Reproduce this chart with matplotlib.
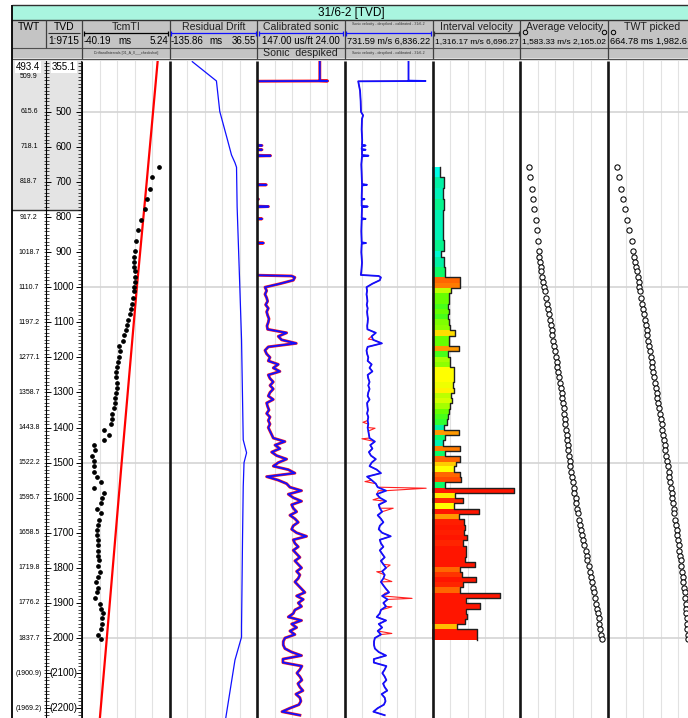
import matplotlib
matplotlib.use("Agg")
import matplotlib.pyplot as plt
import numpy as np
from matplotlib.patches import Rectangle
from matplotlib.colors import LinearSegmentedColormap, Normalize

plt.rcParams['font.family'] = ['Liberation Sans', 'DejaVu Sans']

# ---------------- data ----------------
# checkshot depths (m TVD) and picked values
shot_depth = [656, 687, 719, 748, 778, 808, 837, 867, 897, 913, 927, 941, 955, 970, 984, 998, 1012,
              1031, 1048, 1063, 1077, 1093, 1107, 1122, 1136, 1152, 1167, 1183, 1198, 1212, 1226,
              1241, 1257, 1272, 1288, 1302, 1317, 1331, 1345, 1361, 1376, 1390, 1407, 1422, 1435,
              1450, 1464, 1480, 1494, 1510, 1526, 1540, 1556, 1571, 1586, 1602, 1616, 1631, 1645,
              1663, 1678, 1692, 1706, 1720, 1735, 1751, 1766, 1779, 1796, 1811, 1826, 1841, 1856,
              1870, 1885, 1903, 1916, 1930, 1944, 1959, 1974, 1991, 2004]
tcmti_ms = [-0.4, -3.7, -4.7, -6.5, -7.5, -9.4, -11.1, -12.0, -12.6, -13.0, -13.2, -13.0, -12.6,
            -12.6, -12.8, -13.0, -13.2, -13.7, -14.2, -14.7, -15.2, -16.3, -16.8, -17.1, -18.3,
            -19.0, -21.2, -20.7, -20.9, -21.4, -22.1, -22.3, -22.3, -21.9, -21.9, -22.3, -23.1,
            -23.3, -23.8, -24.5, -24.8, -25.2, -28.6, -26.4, -28.8, -33.8, -33.5, -35.2, -33.8,
            -33.8, -33.8, -32.3, -30.5, -34.0, -28.8, -30.0, -30.4, -32.4, -30.2, -31.6, -31.7,
            -32.3, -32.4, -31.7, -31.7, -31.7, -31.7, -31.6, -31.7, -30.9, -31.9, -32.9, -31.7,
            -32.5, -33.6, -30.9, -30.2, -29.5, -30.0, -30.0, -30.2, -31.7, -30.5]
avg_vel = [1638, 1645, 1658, 1667, 1676, 1685, 1691, 1698, 1707, 1709, 1711, 1718, 1722, 1729,
           1733, 1740, 1746, 1755, 1762, 1768, 1773, 1779, 1786, 1790, 1795, 1801, 1806, 1812,
           1817, 1823, 1828, 1834, 1841, 1848, 1852, 1857, 1861, 1865, 1870, 1874, 1879, 1881,
           1883, 1890, 1894, 1896, 1901, 1905, 1909, 1914, 1920, 1925, 1929, 1936, 1942, 1949,
           1953, 1960, 1967, 1975, 1980, 1986, 1993, 2000, 2006, 2015, 2022, 2028, 2037, 2044,
           2053, 2059, 2064, 2070, 2077, 2086, 2092, 2097, 2101, 2105, 2112, 2119, 2125]
twt_picked = [794, 824, 859, 894, 919, 954, 984, 1019, 1044, 1059, 1069, 1084, 1099, 1109, 1124,
              1134, 1149, 1164, 1179, 1189, 1204, 1219, 1229, 1244, 1254, 1269, 1279, 1294, 1304,
              1318, 1328, 1343, 1353, 1368, 1378, 1393, 1403, 1418, 1428, 1443, 1453, 1468, 1478,
              1493, 1503, 1513, 1523, 1538, 1548, 1558, 1573, 1583, 1593, 1608, 1618, 1628, 1638,
              1648, 1658, 1673, 1683, 1693, 1703, 1713, 1723, 1733, 1743, 1753, 1763, 1773, 1783,
              1793, 1803, 1813, 1818, 1828, 1833, 1838, 1843, 1848, 1853, 1858, 1862]

# TcmTI trend line
tcm_line_depth = [355, 700, 1000, 1500, 2000, 2228]
tcm_line_ms = [-0.9, -6.6, -11.7, -19.6, -27.3, -30.9]

# residual drift
drift_depth = [357, 412, 499, 580, 623, 645, 658, 771, 1000, 1150, 1435, 1472, 1500, 1569,
               1720, 1968, 1997, 2063, 2228]
drift_ms = [-90.9, -43.4, -36.8, -21.6, -13.7, -6.9, -3.8, -2.6, 2.7, 6.1, 9.4, 16.0, 11.0, 9.4,
            8.0, 6.1, 6.1, -6.9, -25.0]

# sonic (us/ft): shallow part at irregular depths, then every 10 m from 980 m
sonic_top_depth = [355, 411, 412, 413, 440, 470, 500, 510, 520, 550, 580, 594, 596, 598, 606, 608,
                   610, 623, 625, 627, 650, 680, 706, 708, 710, 747, 749, 751, 768, 770, 772, 803,
                   805, 807, 840, 872, 874, 876, 900, 930, 955, 965, 968, 972]
sonic_top = [59, 59, 48, 183, 170, 166, 164, 152, 158, 160, 157, 158, 140, 158, 160, 140, 158, 158,
             128, 158, 162, 160, 158, 134, 158, 160, 145, 160, 160, 131, 158, 160, 140, 160, 162,
             160, 138, 160, 162, 158, 162, 165, 98.5, 94]
sonic_main = [96.2, 114.9, 135.8, 133.5, 135.8, 133.5, 132.1, 134.9, 131.2, 133.5,
              132.1, 130.2, 131.2, 133.0, 132.1, 105.5, 117.2, 112.5, 92.0, 131.2,
              135.8, 133.5, 128.8, 131.2, 117.2, 124.2, 114.9, 131.2, 128.8, 124.2,
              128.8, 124.2, 128.8, 131.2, 124.2, 133.5, 132.1, 130.2, 133.5, 128.8,
              131.2, 128.8, 131.2, 128.8, 126.5, 124.2, 107.9, 121.8, 114.9, 126.5,
              119.5, 105.5, 117.2, 124.2, 103.2, 93.9, 133.5, 117.2, 105.5, 100.9,
              84.6, 103.2, 96.2, 84.6, 98.5, 96.2, 91.5, 100.9, 93.9, 89.2,
              96.2, 98.5, 91.5, 77.6, 96.2, 93.9, 89.2, 96.2, 91.5, 86.9,
              93.9, 89.2, 84.6, 91.5, 86.9, 89.2, 93.9, 89.2, 84.6, 79.9,
              91.5, 82.2, 89.2, 84.6, 93.9, 96.2, 103.2, 84.6, 98.5, 91.5,
              100.9, 93.9, 107.9, 110.2, 110.2, 107.9, 98.5, 84.6, 110.7, 110.7,
              84.1, 86.9, 91.1, 86.9, 84.1, 89.7, 86.9, 82.7, 92.5, 86.9,
              85.5, 88.3, 100.9, 112.0, 86.9]

# raw (not despiked) velocity spikes, m/s
spike_depth = [1148, 1385, 1402, 1432, 1554, 1573, 1580, 1606, 1630, 1792, 1811, 1839, 1872,
               1887, 1911, 1987]
spike_vel = [2366, 1995, 2837, 1924, 2135, 6395, 3070, 2696, 4100, 3889, 2955, 4006, 3538,
             5413, 4006, 4006]

# interval velocity blocks: 81 boundaries, 80 values (m/s)
iv_depth = [658, 687, 718, 749, 780, 808, 837, 865, 896, 913, 943, 972, 987, 1002, 1017, 1031,
            1048, 1062, 1076, 1091, 1107, 1122, 1138, 1152, 1167, 1182, 1198, 1212, 1226, 1241,
            1255, 1271, 1287, 1302, 1317, 1331, 1347, 1361, 1376, 1393, 1407, 1421, 1435, 1452,
            1466, 1481, 1497, 1511, 1526, 1542, 1556, 1571, 1587, 1602, 1616, 1632, 1647, 1662,
            1678, 1692, 1706, 1722, 1738, 1752, 1768, 1782, 1797, 1811, 1827, 1841, 1855, 1871,
            1887, 1901, 1917, 1932, 1947, 1961, 1975, 1991, 2006]
iv_vel = [1805, 2009, 1948, 2050, 1968, 1948, 1948, 2050, 1866, 2009, 2111, 3028, 2987, 2478,
          2315, 2315, 2254, 2315, 2254, 2356, 2376, 2722, 2315, 2315, 2926, 2254, 2417, 2376,
          2621, 2621, 2621, 2580, 2661, 2457, 2519, 2417, 2315, 2254, 2213, 2009, 2926, 2111,
          1968, 2987, 2111, 3028, 2784, 2621, 3028, 3089, 2111, 6330, 2682, 3171, 2621, 4149,
          2926, 3232, 3293, 3232, 3436, 3191, 3395, 3395, 3334, 3904, 3028, 3130, 4006, 3191,
          3028, 5474, 3395, 4251, 3395, 3436, 3334, 2824, 4047, 4047]

# depth column labels
twt_label_depth = [400, 500, 600, 700, 800, 900, 1000, 1100, 1200, 1300, 1400, 1500, 1600, 1700,
                   1800, 1900, 2000, 2100, 2200]
twt_labels = ['509.9', '615.6', '718.1', '818.7', '917.2', '1018.7', '1110.7', '1197.2', '1277.1',
              '1358.7', '1443.8', '1522.2', '1595.7', '1658.5', '1719.8', '1776.2', '1837.7',
              '(1900.9)', '(1969.2)']
tvd_label_depth = [500, 600, 700, 800, 900, 1000, 1100, 1200, 1300, 1400, 1500, 1600, 1700,
                   1800, 1900, 2000, 2100, 2200]
tvd_labels = ['500', '600', '700', '800', '900', '1000', '1100', '1200', '1300', '1400', '1500',
              '1600', '1700', '1800', '1900', '2000', '(2100)', '(2200)']

# ---------------- layout ----------------
W, H = 688, 718
TOP, BASE = 355.1, 2228
Y0, Y1 = 61, 718
SHADE_BASE = 779
edges = [82, 169.5, 257, 344.8, 432.5, 520.3, 608.2, 696]

fig = plt.figure(figsize=(W / 100, H / 100), dpi=100)


def px_axes(x0, x1, y0, y1, z=1):
    ax = fig.add_axes([x0 / W, 1 - y1 / H, (x1 - x0) / W, (y1 - y0) / H])
    ax.set_zorder(z)
    return ax


def make_track(i, lo, hi):
    ax = px_axes(edges[i], edges[i + 1], Y0, Y1)
    ax.set_xlim(lo, hi)
    ax.set_ylim(BASE, TOP)
    ax.axis('off')
    step = (hi - lo) / 5
    for k in range(1, 5):
        ax.axvline(lo + k * step, color='#e2e2e2', lw=0.8, zorder=0)
    for d in (500, 1000, 1500, 2000):
        ax.axhline(d, color='#d4d4d4', lw=1.2, zorder=0)
    return ax


# depth columns
lc = px_axes(12, 82, Y0, Y1)
lc.set_xlim(12, 82)
lc.set_ylim(BASE, TOP)
lc.axis('off')
lc.axhspan(SHADE_BASE, TOP, color='#e4e4e4', zorder=0)
lc.axhline(SHADE_BASE, color='#303030', lw=1.0)
lc.axvline(46, color='black', lw=0.8)
lc.axvline(80.5, color='black', lw=0.6)
minor = np.arange(360, 2230, 10)
lc.hlines(minor, 43.5, 48.5, color='black', lw=0.5)
lc.hlines(minor, 78, 80.5, color='black', lw=0.5)
lc.hlines(tvd_label_depth, 46, 51, color='black', lw=0.7)
lc.hlines(tvd_label_depth, 76, 80.5, color='black', lw=0.7)
for d, s in zip(twt_label_depth, twt_labels):
    lc.text(29, d, s, ha='center', va='center', fontsize=5)
for d, s in zip(tvd_label_depth, tvd_labels):
    lc.text(63.5, d, s, ha='center', va='center', fontsize=7)
lc.text(28, TOP + 3, '493.4', ha='center', va='top', fontsize=7,
        bbox=dict(fc='white', ec='none', pad=0.5))
lc.text(64, TOP + 3, '355.1', ha='center', va='top', fontsize=7,
        bbox=dict(fc='white', ec='none', pad=0.5))

# TcmTI
ax = make_track(0, -40.19, 5.24)
ax.plot(tcm_line_ms, tcm_line_depth, color='red', lw=1.6)
ax.plot(tcmti_ms, shot_depth, 'o', ms=2.4, color='black')

# residual drift
ax = make_track(1, -135.86, 36.55)
ax.plot(drift_ms, drift_depth, color='#1010ff', lw=0.9)

# calibrated sonic
sonic_depth = sonic_top_depth + list(range(980, 980 + 10 * len(sonic_main), 10))
sonic = np.array(sonic_top + sonic_main, dtype=float)
ax = make_track(2, 147.0, 24.0)
ax.plot(sonic, sonic_depth, color='#ff2020', lw=2.1)
ax.plot(sonic, sonic_depth, color='#1010ff', lw=1.3)

# sonic velocity despiked (blue) vs raw (red)
vel = 304800.0 / sonic
raw_d = np.array(sonic_depth + spike_depth, dtype=float)
raw_v = np.concatenate([vel, spike_vel])
order = np.argsort(raw_d, kind='stable')
ax = make_track(3, 731.59, 6836.22)
ax.plot(raw_v[order], raw_d[order], color='#ff2020', lw=0.8)
ax.plot(vel, sonic_depth, color='#1010ff', lw=1.3)

# interval velocity blocks
cmap = LinearSegmentedColormap.from_list('iv', [
    (0.0, '#00ffe6'), (0.133, '#00f0a8'), (0.233, '#10ff50'), (0.333, '#60ff00'),
    (0.433, '#b8ff00'), (0.547, '#ffff00'), (0.653, '#ffcc00'), (0.753, '#ff9900'),
    (0.82, '#ff6600'), (0.9, '#ff2a00'), (1.0, '#ff1500')])
norm = Normalize(1800, 3300)
IV_MIN, IV_MAX = 1316.17, 6696.27
ax = make_track(4, IV_MIN, IV_MAX)
tops = np.array(iv_depth[:-1], dtype=float)
bots = np.array(iv_depth[1:], dtype=float)
v = np.array(iv_vel, dtype=float)
ax.barh((tops + bots) / 2, v - IV_MIN, height=bots - tops, left=IV_MIN,
        color=cmap(norm(v)), edgecolor='none', zorder=2)
sx, sy = [], []
for t, b, val in zip(tops, bots, v):
    sx += [val, val]
    sy += [t, b]
ax.plot(sx, sy, color='#202020', lw=1.0, zorder=3)

# average velocity
ax = make_track(5, 1583.33, 2165.02)
ax.plot(avg_vel, shot_depth, 'o', ms=3.8, mfc='white', mec='black', mew=0.75)

# TWT picked
ax = make_track(6, 664.78, 1982.63)
ax.plot(twt_picked, shot_depth, 'o', ms=3.8, mfc='white', mec='black', mew=0.75)

# ---------------- header and borders ----------------
ov = fig.add_axes([0, 0, 1, 1])
ov.set_zorder(20)
ov.patch.set_alpha(0)
ov.set_xlim(0, W)
ov.set_ylim(H, 0)
ov.axis('off')

ov.add_patch(Rectangle((12, 5), 700, 15, fc='#a9f5df', ec='none'))
ov.add_patch(Rectangle((12, 20), 700, 38, fc='#c4c4c4', ec='none'))
ov.add_patch(Rectangle((12, 58), 700, 3, fc='#e6e6e6', ec='none'))
ov.hlines([5, 20], 12, 700, color='#303030', lw=1.0)
ov.hlines([47.7, 58.5], 12, 700, color='#505050', lw=0.8)
ov.vlines(46, 20, 47.7, color='#404040', lw=0.9)
ov.vlines(edges[:-1], 20, 58.5, color='#404040', lw=0.9)
ov.vlines(12, 5, H, color='black', lw=1.3)
ov.vlines(82, Y0, H, color='black', lw=0.7)
ov.vlines(edges[1:-1], Y0, H, color='#151515', lw=1.9)

ov.text(351, 12.7, '31/6-2 [TVD]', ha='center', va='center', fontsize=8.5)

TY, LY, NY = 26.7, 33.3, 41.5
ov.text(29, TY, 'TWT', ha='center', va='center', fontsize=7.5)
ov.text(64, TY, 'TVD', ha='center', va='center', fontsize=7.5)
ov.hlines(LY, 48, 80, color='#303030', lw=0.8)
ov.text(64, NY, '1:9715', ha='center', va='center', fontsize=7.3)

titles = ['TcmTI', 'Residual Drift', 'Calibrated sonic', '', 'Interval velocity',
          'Average velocity', 'TWT picked']
line_cols = ['black', '#1010ff', '#1010ff', '#1010ff', '#303030', None, None]
for i in range(7):
    x0, x1 = edges[i] + 1.5, edges[i + 1] - 1.5
    xc = (x0 + x1) / 2
    if titles[i]:
        ov.text(xc, TY, titles[i], ha='center', va='center', fontsize=7.6, color='#202020')
    if line_cols[i]:
        ov.hlines(LY, x0, x1, color=line_cols[i], lw=0.9)
        ov.vlines([x0, x1], LY - 2.5, LY + 2.5, color=line_cols[i], lw=0.9)

# scale ranges under each title
ov.text(83.5, NY, '-40.19', ha='left', va='center', fontsize=7.0)
ov.text(125, NY, 'ms', ha='center', va='center', fontsize=7.0)
ov.text(168, NY, '5.24', ha='right', va='center', fontsize=7.0)
ov.text(171, NY, '-135.86', ha='left', va='center', fontsize=7.0)
ov.text(216, NY, 'ms', ha='center', va='center', fontsize=7.0)
ov.text(255.5, NY, '36.55', ha='right', va='center', fontsize=7.0)
ov.text(300.9, NY, '147.00 us/ft 24.00', ha='center', va='center', fontsize=7.0)
ov.text(388.6, NY, '731.59 m/s 6,836.22', ha='center', va='center', fontsize=6.6)
ov.text(476.4, NY, '1,316.17 m/s 6,696.27', ha='center', va='center', fontsize=6.0)
ov.text(564.2, NY, '1,583.33 m/s 2,165.02', ha='center', va='center', fontsize=6.0)
ov.text(609.5, NY, '664.78 ms 1,982.6', ha='left', va='center', fontsize=6.7)

# small legend markers next to the titles
ov.plot([524.5, 603.5, 612.5], [32, 32, 32], 'o', ms=3.2, mfc='none', mec='black', mew=0.7)

# tiny curve names
ov.text(126, 53, 'DriftandIntervals [01_A_0___checkshot]', ha='center', va='center',
        fontsize=2.6, color='#303030')
ov.text(388.5, 24.5, 'Sonic velocity - despiked - calibrated - 31/6-2', ha='center',
        va='center', fontsize=2.6, color='#303030')
ov.text(388.5, 53, 'Sonic velocity - despiked - calibrated - 31/6-2', ha='center',
        va='center', fontsize=2.6, color='#303030')
ov.text(300.5, 53, 'Sonic  despiked', ha='center', va='center', fontsize=7.6, color='#202020')

fig.savefig('out.png', dpi=100)
